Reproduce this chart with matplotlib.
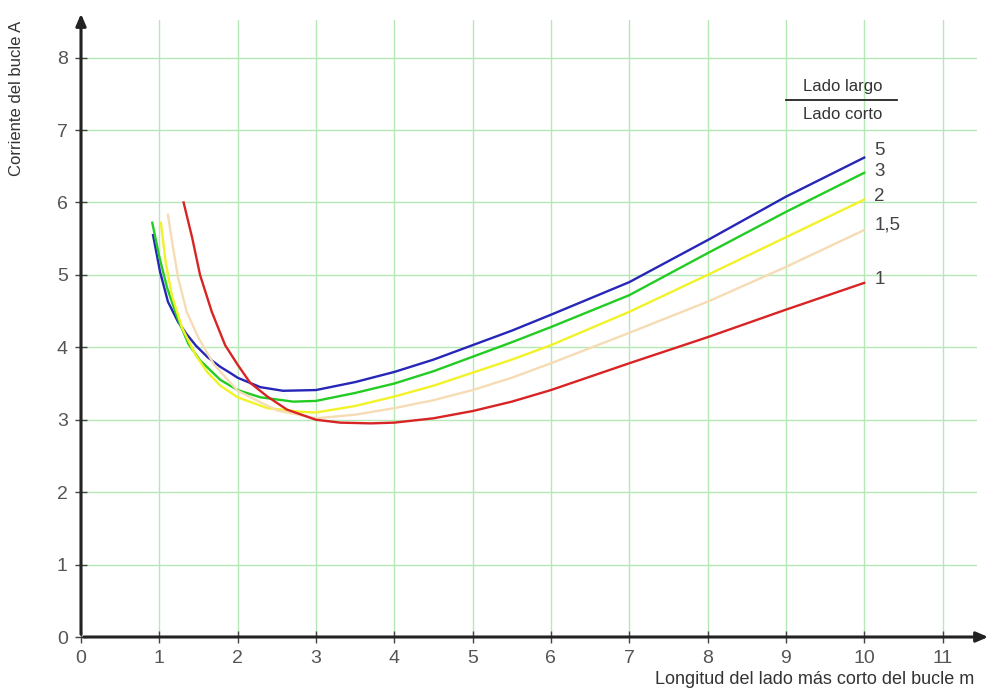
import matplotlib
matplotlib.use("Agg")
import matplotlib.pyplot as plt

plt.rcParams['font.family'] = ['Liberation Sans', 'DejaVu Sans']

# curve values (x: shortest side in m, y: current in A)
x_5 = [0.92, 1.01, 1.11, 1.24, 1.35, 1.47, 1.62, 1.78, 1.9, 2.0, 2.29, 2.58, 3.0, 3.5, 4, 4.5, 5, 5.5, 6, 7, 8, 9, 10]
y_5 = [5.55, 5.04, 4.63, 4.35, 4.18, 4.02, 3.86, 3.73, 3.65, 3.58, 3.45, 3.40, 3.41, 3.52, 3.66, 3.83, 4.03, 4.23, 4.45, 4.90, 5.48, 6.08, 6.62]

x_3 = [0.91, 1.0, 1.1, 1.23, 1.37, 1.52, 1.78, 2.0, 2.29, 2.71, 3.0, 3.5, 4, 4.5, 5, 5.5, 6, 7, 8, 9, 10]
y_3 = [5.72, 5.25, 4.82, 4.41, 4.05, 3.82, 3.55, 3.41, 3.31, 3.25, 3.26, 3.37, 3.50, 3.67, 3.87, 4.07, 4.28, 4.72, 5.30, 5.87, 6.41]

x_2 = [1.02, 1.08, 1.16, 1.29, 1.46, 1.61, 1.78, 2.0, 2.38, 2.8, 3.0, 3.5, 4, 4.5, 5, 5.5, 6, 7, 8, 9, 10]
y_2 = [5.72, 5.18, 4.72, 4.27, 3.90, 3.66, 3.47, 3.31, 3.16, 3.11, 3.10, 3.19, 3.32, 3.47, 3.65, 3.83, 4.03, 4.49, 5.00, 5.52, 6.04]

x_15 = [1.11, 1.17, 1.24, 1.35, 1.50, 1.7, 2.0, 2.5, 3.0, 3.5, 4, 4.5, 5, 5.5, 6, 7, 8, 9, 10]
y_15 = [5.83, 5.41, 4.96, 4.49, 4.13, 3.76, 3.40, 3.13, 3.02, 3.07, 3.16, 3.27, 3.41, 3.58, 3.78, 4.20, 4.63, 5.11, 5.62]

x_1 = [1.31, 1.42, 1.52, 1.67, 1.84, 2.0, 2.16, 2.38, 2.63, 3.0, 3.31, 3.7, 4, 4.5, 5, 5.5, 6, 7, 8, 9, 10]
y_1 = [6.00, 5.51, 5.00, 4.49, 4.03, 3.76, 3.51, 3.32, 3.14, 3.00, 2.96, 2.95, 2.96, 3.02, 3.12, 3.25, 3.41, 3.78, 4.14, 4.52, 4.89]

ratio_labels = ["5", "3", "2", "1,5", "1"]
xticks = list(range(0, 12))
yticks = list(range(0, 9))

curves = [(x_5, y_5, "#2626b8"), (x_3, y_3, "#22cc22"), (x_2, y_2, "#f2f228"),
          (x_15, y_15, "#f6dcb4"), (x_1, y_1, "#d82424")]

fig = plt.figure(figsize=(9.91, 6.90), dpi=100)
ax = fig.add_axes([81/991, 1-637/690, 896/991, 617/690])
ax.set_xlim(0, 11.44)
ax.set_ylim(0, 8.52)

ax.set_xticks(xticks)
ax.set_yticks(yticks)
ax.grid(True, color="#b4e8b4", linewidth=1.0)
ax.set_axisbelow(True)
for s in ax.spines.values():
    s.set_visible(False)
ax.tick_params(direction="inout", length=9, width=1.0, color="#444444",
               labelcolor="#555555", labelsize=14, pad=5)

# axes with arrows
ax.annotate("", xy=(1 + 14/896, 0), xytext=(0, 0), xycoords="axes fraction",
            arrowprops=dict(arrowstyle="-|>,head_length=0.7,head_width=0.3", color="#222222", lw=2.2),
            annotation_clip=False)
ax.annotate("", xy=(0, 1 + 9/617), xytext=(0, 0), xycoords="axes fraction",
            arrowprops=dict(arrowstyle="-|>,head_length=0.7,head_width=0.3", color="#222222", lw=2.2),
            annotation_clip=False)

for xs, ys, c in curves:
    ax.plot(xs, ys, color=c, lw=1.7, solid_joinstyle="round", clip_on=False)

label_y = [6.72, 6.43, 6.08, 5.69, 4.93]
for lab, ly in zip(ratio_labels, label_y):
    ax.text(10.13, ly, lab, fontsize=13.5, color="#444444", ha="left", va="center")

# ratio legend
ax.text(9.72, 7.60, "Lado largo", fontsize=12, color="#333333", ha="center", va="center")
ax.plot([9.0, 10.42], [7.41, 7.41], color="#222222", lw=1.3)
ax.text(9.72, 7.22, "Lado corto", fontsize=12, color="#333333", ha="center", va="center")

fig.text(17/991, 1-98/690, "Corriente del bucle A", rotation=90, fontsize=12,
         color="#333333", ha="center", va="center")
fig.text(655/991, 1-680/690, "Longitud del lado más corto del bucle m", fontsize=13,
         color="#333333", ha="left", va="center")

fig.savefig("out.png", dpi=100)
